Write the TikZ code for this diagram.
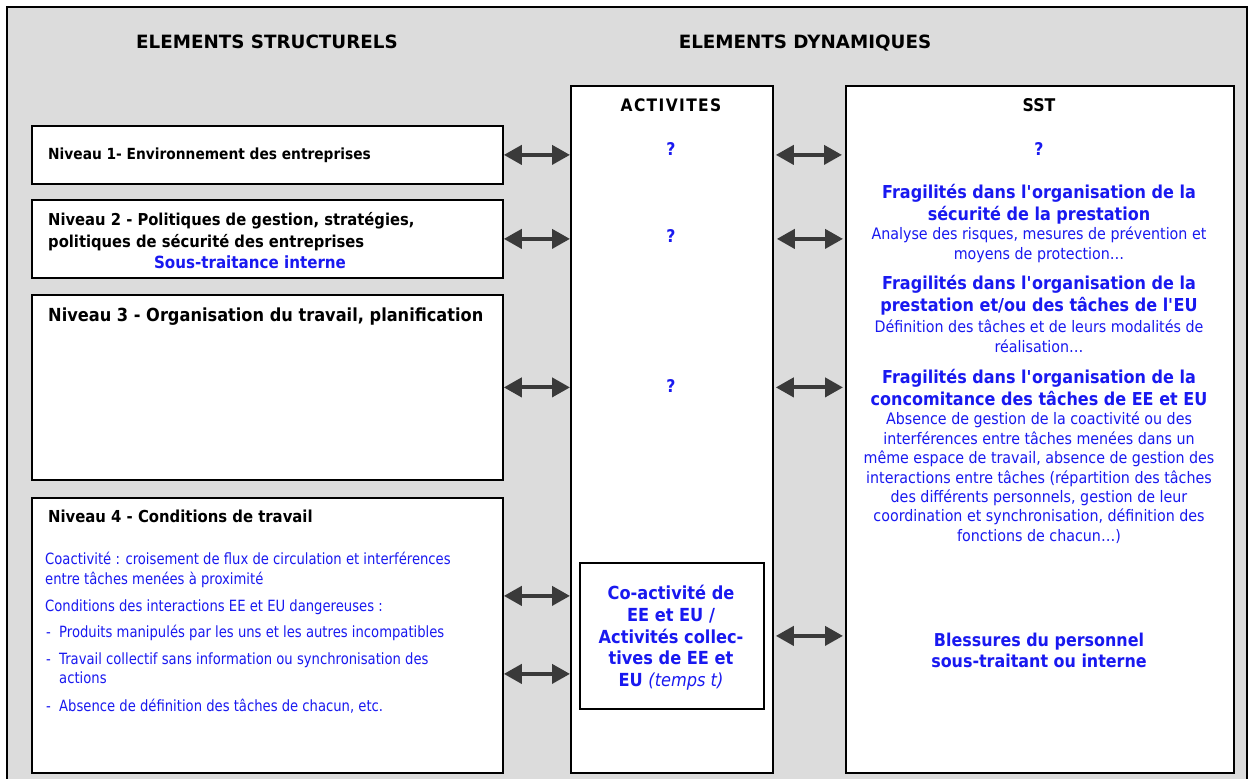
\documentclass[tikz,border=0pt]{standalone}
\usepackage{fontspec}
\setmainfont{DejaVu Sans}[FakeStretch=0.9]
\newfontfamily\narrowfont{DejaVu Sans}[FakeStretch=0.85]
\newfontfamily\widefont{DejaVu Sans}
\usetikzlibrary{arrows.meta}

\definecolor{bggray}{RGB}{220,220,220}
\definecolor{txtblue}{RGB}{25,25,240}
\definecolor{arrgray}{RGB}{58,58,58}

% font sizes (1 unit = 1pt)
\newcommand\titlefont{\widefont\bfseries\fontsize{18.3}{21}\selectfont}
\newcommand\levelfont[2]{\bfseries\fontsize{#1}{#2}\selectfont}
\newcommand\headfont{\bfseries\fontsize{17.8}{21.5}\selectfont}
\newcommand\bodyfont{\fontsize{15.85}{19.4}\selectfont}
\newcommand\condfont{\narrowfont\fontsize{15.5}{19.5}\selectfont}
\newcommand\qfont{\bfseries\fontsize{17.5}{20}\selectfont}

\tikzset{
  panel/.style={draw=black, line width=1.8pt, fill=white, inner sep=0pt, anchor=north west},
  biarrow/.style={draw=arrgray, line width=4pt,
    {Triangle[length=18pt,width=19pt]}-{Triangle[length=18pt,width=19pt]}},
  label/.style={inner sep=0pt, align=center},
  bluelabel/.style={label, text=txtblue},
}

\begin{document}
\begin{tikzpicture}[x=1pt,y=-1pt]
\useasboundingbox (0,0) rectangle (1254,779);
% background frame
\draw[line width=1.8pt, fill=bggray] (7,7) rectangle (1247,800);

% column titles
\node[label, anchor=base, font=\titlefont] (tstruct) at (267,48.5) {ELEMENTS STRUCTURELS};
\node[label, anchor=base, font=\titlefont] (tdyn) at (805,48.5) {ELEMENTS DYNAMIQUES};

% level boxes
\node[panel, minimum width=471pt, minimum height=58pt]  (n1) at (31,125) {};
\node[panel, minimum width=471pt, minimum height=78pt]  (n2) at (31,199) {};
\node[panel, minimum width=471pt, minimum height=185pt] (n3) at (31,294) {};
\node[panel, minimum width=471pt, minimum height=275pt] (n4) at (31,497) {};

% dynamic columns
\node[panel, minimum width=202pt, minimum height=687pt] (act) at (570,85) {};
\node[panel, minimum width=388pt, minimum height=687pt] (sst) at (845,85) {};
\node[panel, minimum width=184pt, minimum height=146pt] (coa) at (579,562) {};

% level texts
\node[label, anchor=base west, font={\levelfont{15.3}{20}}] (n1t) at (48,159.5) {Niveau 1- Environnement des entreprises};
\node[label, anchor=north west, align=left, font={\levelfont{16.4}{22}}] (n2t) at (48,211.8)
  {Niveau 2 - Politiques de gestion, stratégies,\\politiques de sécurité des entreprises};
\node[bluelabel, anchor=base, font={\levelfont{16.8}{20}}] (n2s) at (250,268) {Sous-traitance interne};
\node[label, anchor=base west, font={\levelfont{18}{22}}] (n3t) at (48,321) {Niveau 3 - Organisation du travail, planification};
\node[label, anchor=base west, font={\levelfont{16.5}{20}}] (n4t) at (48,522.5) {Niveau 4 - Conditions de travail};

% level 4 details
\node[bluelabel, anchor=north west, align=left, font=\condfont] (c1) at (45,552.2)
  {Coactivité : croisement de flux de circulation et interférences\\entre tâches menées à proximité};
\node[bluelabel, anchor=north west, align=left, font=\condfont] (c2) at (45,599.2)
  {Conditions des interactions EE et EU dangereuses :};
\node[bluelabel, anchor=north west, align=left, font=\condfont] (b1) at (46,625.2)
  {\makebox[13pt][l]{-}Produits manipulés par les uns et les autres incompatibles};
\node[bluelabel, anchor=north west, align=left, font=\condfont] (b2) at (46,652.2)
  {\makebox[13pt][l]{-}Travail collectif sans information ou synchronisation des\\\hspace*{13pt}actions};
\node[bluelabel, anchor=north west, align=left, font=\condfont] (b3) at (46,699.2)
  {\makebox[13pt][l]{-}Absence de définition des tâches de chacun, etc.};

% activities column
\node[label, anchor=base, font={\bfseries\fontsize{17.2}{20}\selectfont\addfontfeature{LetterSpace=8}}] (actt) at (671,111) {ACTIVITES};
\node[bluelabel, anchor=base, font=\qfont] (q1) at (671,155.5) {?};
\node[bluelabel, anchor=base, font=\qfont] (q2) at (671,242.5) {?};
\node[bluelabel, anchor=base, font=\qfont] (q3) at (671,392.5) {?};
\node[bluelabel, anchor=north, font={\bfseries\fontsize{18}{21.75}\selectfont}] (coat) at (671,585.1)
  {Co-activité de\\EE et EU /\\Activités collec-\\tives de EE et\\EU {\mdseries\itshape (temps t)}};

% safety column
\node[label, anchor=base, font={\bfseries\fontsize{17.5}{20}\selectfont}] (sstt) at (1039,111) {SST};
\node[bluelabel, anchor=base, font=\qfont] (q4) at (1039,155.5) {?};
\node[bluelabel, anchor=north, font=\headfont] (f1) at (1039,184.2)
  {Fragilités dans l\textquotesingle organisation de la\\sécurité de la prestation};
\node[bluelabel, anchor=north, font=\bodyfont] (f1d) at (1039,227)
  {Analyse des risques, mesures de prévention et\\moyens de protection\dots};
\node[bluelabel, anchor=north, font=\headfont] (f2) at (1039,275.2)
  {Fragilités dans l\textquotesingle organisation de la\\prestation et/ou des tâches de l\textquotesingle EU};
\node[bluelabel, anchor=north, font=\bodyfont] (f2d) at (1039,320)
  {Définition des tâches et de leurs modalités de\\réalisation\dots};
\node[bluelabel, anchor=north, font=\headfont] (f3) at (1039,369.2)
  {Fragilités dans l\textquotesingle organisation de la\\concomitance des tâches de EE et EU};
\node[bluelabel, anchor=north, font=\bodyfont] (f3d) at (1039,412)
  {Absence de gestion de la coactivité ou des\\interférences entre tâches menées dans un\\même espace de travail, absence de gestion des\\interactions entre tâches (répartition des tâches\\des différents personnels, gestion de leur\\coordination et synchronisation, définition des\\fonctions de chacun\dots)};
\node[bluelabel, anchor=north, font={\bfseries\fontsize{17.7}{21}\selectfont}] (bl) at (1039,633.2)
  {Blessures du personnel\\sous-traitant ou interne};

% links between structural levels and activities
\draw[biarrow] (n1.east) -- (n1.east -| act.west);
\draw[biarrow] (n2.east) -- (n2.east -| act.west);
\draw[biarrow] (n3.east) -- (n3.east -| act.west);
\draw[biarrow] ([yshift=39.5pt]n4.east) -- ([yshift=39.5pt]n4.east -| act.west);
\draw[biarrow] ([yshift=-38.5pt]n4.east) -- ([yshift=-38.5pt]n4.east -| act.west);

% links between activities and safety outcomes
\draw[biarrow, shorten <=2pt, shorten >=3pt] (act.east |- n1.east) -- (sst.west |- n1.east);
\draw[biarrow, shorten <=3pt, shorten >=2pt] (act.east |- n2.east) -- (sst.west |- n2.east);
\draw[biarrow, shorten <=2pt, shorten >=2pt] (act.east |- n3.east) -- (sst.west |- n3.east);
\draw[biarrow, shorten <=2pt, shorten >=2pt] (act.east |- coa.east) -- (sst.west |- coa.east);
\end{tikzpicture}
\end{document}
